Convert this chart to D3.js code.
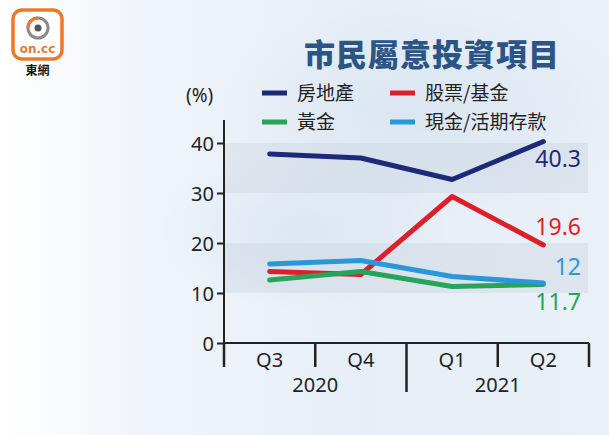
<!DOCTYPE html>
<html><head><meta charset="utf-8">
<script src="https://cdn.jsdelivr.net/npm/d3@7"></script>
<style>
html,body{margin:0;padding:0;background:#fff;}
svg{display:block;font-family:"Noto Sans","Noto Sans CJK TC",sans-serif;}
</style></head>
<body>
<svg id="c" width="609" height="435"></svg>
<script>
// ---- data ----
const categories = ["Q3","Q4","Q1","Q2"];
const years = [{label:"2020", cats:["Q3","Q4"]},{label:"2021", cats:["Q1","Q2"]}];
const seriesNames = ["房地產","股票/基金","黃金","現金/活期存款"];
const realEstate = [37.8, 37.0, 32.7, 40.3];
const stocks = [14.3, 13.7, 29.3, 19.6];
const gold = [12.6, 14.3, 11.3, 11.7];
const cash = [15.8, 16.5, 13.3, 12];
const endLabels = ["40.3","19.6","11.7","12"];
const yTicks = [0,10,20,30,40];
const title = "市民屬意投資項目";

const colors = ["#1e2a78","#dd1f2a","#27a35a","#2a98d6"];
const seriesValues = [realEstate, stocks, gold, cash];

const svg = d3.select("#c");
const defs = svg.append("defs");
const g1 = defs.append("linearGradient").attr("id","bg").attr("x1",0).attr("x2",1).attr("y1",0).attr("y2",0);
g1.append("stop").attr("offset","0%").attr("stop-color","#ffffff");
g1.append("stop").attr("offset","22%").attr("stop-color","#f1f5fa");
g1.append("stop").attr("offset","60%").attr("stop-color","#e6eef7");
g1.append("stop").attr("offset","100%").attr("stop-color","#e9f0f8");
svg.append("rect").attr("width",609).attr("height",435).attr("fill","url(#bg)");
const g2 = defs.append("radialGradient").attr("id","cloud");
g2.append("stop").attr("offset","0%").attr("stop-color","#d6e3f0").attr("stop-opacity",0.7);
g2.append("stop").attr("offset","100%").attr("stop-color","#d6e3f0").attr("stop-opacity",0);
svg.append("ellipse").attr("cx",420).attr("cy",110).attr("rx",220).attr("ry",110).attr("fill","url(#cloud)");
svg.append("ellipse").attr("cx",300).attr("cy",230).attr("rx",150).attr("ry",80).attr("fill","url(#cloud)");

// logo
const logo = svg.append("g");
logo.append("rect").attr("x",13).attr("y",10).attr("width",49).attr("height",49).attr("rx",9)
  .attr("fill","#fff").attr("stroke","#ea7a2a").attr("stroke-width",3.5);
logo.append("circle").attr("cx",38).attr("cy",28).attr("r",10).attr("fill","none").attr("stroke","#8a8a8a").attr("stroke-width",3);
logo.append("path").attr("d","M28,28 A10,10 0 0 1 38,18").attr("fill","none").attr("stroke","#ea7a2a").attr("stroke-width",3);
logo.append("circle").attr("cx",38).attr("cy",28).attr("r",3.5).attr("fill","#555");
logo.append("text").attr("x",37.5).attr("y",53).attr("text-anchor","middle").attr("font-size",12).attr("font-weight",700)
  .attr("fill","#ea7a2a").attr("font-family","DejaVu Sans, sans-serif").text("on.cc");
logo.append("text").attr("x",37.5).attr("y",75).attr("text-anchor","middle").attr("font-size",12).attr("font-weight",700)
  .attr("fill","#111").attr("font-family","Noto Sans CJK TC").text("東網");

// scales
const x = d3.scaleBand().domain(categories).range([224,589]);
const y = d3.scaleLinear().domain([0,40]).range([343,143]);
const cx = c => x(c) + x.bandwidth()/2;

// bands
[[10,20],[30,40]].forEach(b=>{
  svg.append("rect").attr("x",224).attr("width",364).attr("y",y(b[1])).attr("height",y(b[0])-y(b[1]))
    .attr("fill","#c9d2dc").attr("opacity",0.38);
});

// title
svg.append("text").attr("x",432).attr("y",66).attr("text-anchor","middle").attr("font-size",31)
  .attr("font-weight",900).attr("fill","#2c5485").attr("letter-spacing",1).attr("font-family","Noto Sans CJK TC").text(title);

// legend
svg.append("text").attr("x",186).attr("y",102).attr("font-size",19).attr("fill","#222").text("(%)");
const legPos = [[262,93],[390,93],[262,122],[390,122]];
seriesNames.forEach((n,i)=>{
  const [lx,ly] = legPos[i];
  svg.append("line").attr("x1",lx).attr("x2",lx+25).attr("y1",ly).attr("y2",ly).attr("stroke",colors[i]).attr("stroke-width",5);
  svg.append("text").attr("x",lx+35).attr("y",ly+7).attr("font-size",19).attr("fill","#222").attr("font-family","Noto Sans CJK TC").text(n);
});

// y axis
const ya = svg.append("g").attr("transform","translate(224,0)")
  .call(d3.axisLeft(y).tickValues(yTicks).tickSize(7).tickPadding(3));
ya.select(".domain").attr("stroke","#222").attr("stroke-width",2).attr("d","M0,"+y(0)+"V120");
ya.selectAll(".tick line").attr("stroke","#222").attr("stroke-width",2);
ya.selectAll(".tick text").attr("font-size",20).attr("fill","#222").attr("font-family","Noto Sans, sans-serif").attr("dy","0.35em");

// x axis
svg.append("line").attr("x1",224).attr("x2",589).attr("y1",y(0)).attr("y2",y(0)).attr("stroke","#222").attr("stroke-width",2);
const bounds = categories.map(c=>x(c)).concat([x.range()[1]]);
bounds.forEach((b,i)=>{
  const isYear = (i===2);
  svg.append("line").attr("x1",b).attr("x2",b).attr("y1",y(0)).attr("y2",isYear?392:367)
    .attr("stroke","#222").attr("stroke-width",2.5);
});
categories.forEach(c=>{
  svg.append("text").attr("x",cx(c)).attr("y",367).attr("text-anchor","middle").attr("font-size",20).attr("fill","#222").text(c);
});
years.forEach(yr=>{
  const a = x(yr.cats[0]), b = x(yr.cats[yr.cats.length-1]) + x.bandwidth();
  svg.append("text").attr("x",(a+b)/2).attr("y",392).attr("text-anchor","middle").attr("font-size",20).attr("fill","#222").text(yr.label);
});

// lines
const line = d3.line().x((d,i)=>cx(categories[i])).y(d=>y(d));
seriesValues.forEach((vals,i)=>{
  svg.append("path").datum(vals).attr("d",line).attr("fill","none").attr("stroke",colors[i])
    .attr("stroke-width",5).attr("stroke-linejoin","round").attr("stroke-linecap","round");
});
// end labels
const labelY = [167, 235, 310, 275];
endLabels.forEach((t,i)=>{
  svg.append("text").attr("x",581).attr("y",labelY[i]).attr("text-anchor","end").attr("font-size",23)
    .attr("fill",colors[i]).text(t);
});
</script>
</body></html>
